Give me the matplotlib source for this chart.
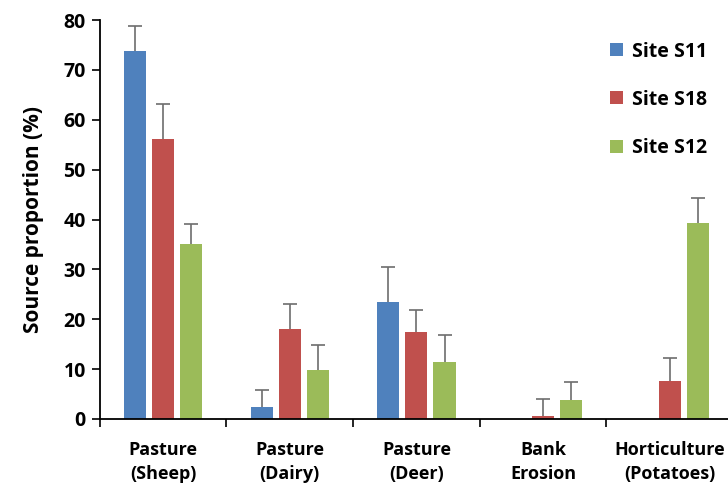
import numpy as np
import matplotlib.pyplot as plt

categories = ["Pasture\n(Sheep)", "Pasture\n(Dairy)", "Pasture\n(Deer)", "Bank\nErosion", "Horticulture\n(Potatoes)"]
sites = ["Site S11", "Site S18", "Site S12"]
s11 = [73.8, 2.4, 23.4, 0.0, 0.0]
s18 = [56.1, 18.0, 17.4, 0.6, 7.7]
s12 = [35.0, 9.8, 11.5, 3.9, 39.4]
s11_err = [5.0, 3.5, 7.1, 0.0, 0.0]
s18_err = [7.0, 5.1, 4.5, 3.4, 4.5]
s12_err = [4.2, 5.0, 5.3, 3.5, 4.9]

colors = ["#4F81BD", "#C0504D", "#9BBB59"]
plt.rcParams['font.family'] = ['Open Sans', 'DejaVu Sans']

fig = plt.figure(figsize=(7.28, 4.9), dpi=100)
ax = fig.add_axes([0.137, 0.145, 0.863, 0.814])

x = np.arange(len(categories))
w = 0.175
step = 0.222
for i, (vals, errs) in enumerate(zip([s11, s18, s12], [s11_err, s18_err, s12_err])):
    pos = x + (i - 1) * step
    ax.bar(pos, vals, width=w, color=colors[i], label=sites[i], zorder=2)
    mask = np.array(vals) > 0
    _, caps, _ = ax.errorbar(pos[mask], np.array(vals)[mask],
                             yerr=[np.zeros(mask.sum()), np.array(errs)[mask]],
                             fmt='none', ecolor='#6d6d6d', elinewidth=1.2,
                             capsize=5, capthick=1.2, zorder=1)
    caps[0].set_visible(False)

ax.set_xlim(-0.5, 4.46)
ax.set_ylim(0, 80)
ax.set_yticks(range(0, 81, 10))
ax.set_xticks(x)
ax.set_xticklabels(categories, fontsize=13, fontweight='bold', linespacing=1.45)
ax.set_xticks(np.arange(-0.5, 4.5, 1.0), minor=True)
ax.tick_params(axis='x', which='major', length=0, pad=16)
ax.tick_params(axis='x', which='minor', length=6, width=1.2, direction='out')
ax.tick_params(axis='y', length=6, width=1.2, labelsize=14, pad=4)
for lab in ax.get_yticklabels():
    lab.set_fontweight('bold')
for s in ['top', 'right']:
    ax.spines[s].set_visible(False)
for s in ['left', 'bottom']:
    ax.spines[s].set_linewidth(1.3)

ax.set_ylabel("Source proportion (%)", fontsize=15, fontweight='bold', labelpad=14)

leg = ax.legend(loc='upper right', bbox_to_anchor=(0.995, 0.99), frameon=False,
                prop={'size': 14, 'weight': 'bold'}, labelspacing=1.45,
                handlelength=0.65, handleheight=0.65, handletextpad=0.5)

fig.savefig("out.png", dpi=100)
